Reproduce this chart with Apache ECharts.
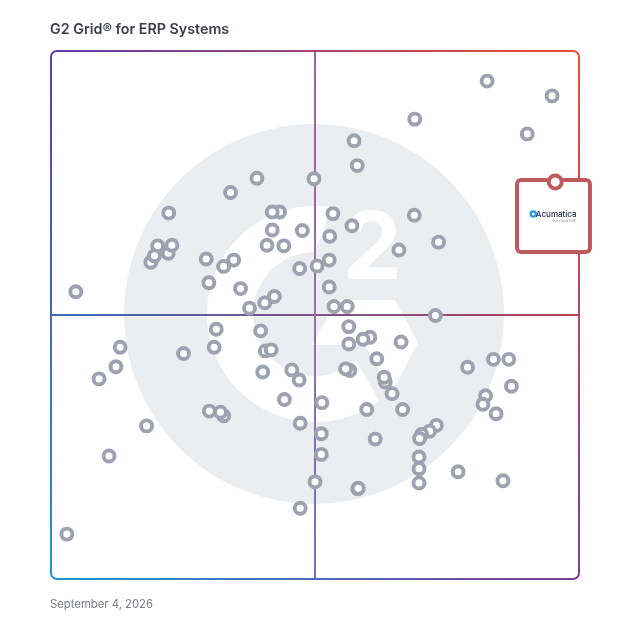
<!DOCTYPE html>
<html><head><meta charset="utf-8">
<style>html,body{margin:0;padding:0;background:#fff}#c{width:628px;height:628px}</style>
<script src="https://cdn.jsdelivr.net/npm/echarts@6/dist/echarts.min.js"></script>
</head><body><div id="c"></div>
<script>
const chartTitle = 'G2 Grid® for ERP Systems';
const dateLabel = 'September 4, 2026';
const featuredName = 'Acumatica';
const featuredTagline = 'the cloud ERP';
const featuredProduct = [[95.5,75.2]];
const products = [
[82.6,94.3],[94.9,91.5],[68.9,87.1],[90.2,84.3],[57.4,83.0],[58.0,78.3],[4.7,54.4],[13.1,43.9],[12.3,40.2],[9.1,37.9],
[18.1,29.0],[11.0,23.3],[3.0,8.5],[39.0,75.9],[34.0,73.2],[49.8,75.8],[22.3,69.3],[43.3,69.5],[41.9,69.5],[53.4,69.2],
[68.8,68.9],[57.0,66.9],[41.9,66.1],[47.6,66.0],[52.8,64.9],[73.4,63.8],[40.9,63.2],[44.1,63.1],[22.2,61.7],[20.2,63.1],
[22.9,63.2],[18.9,60.0],[19.6,61.2],[65.9,62.3],[29.4,60.6],[34.6,60.4],[32.7,59.2],[52.7,60.4],[50.4,59.3],[47.1,58.8],
[29.9,56.1],[52.7,55.3],[35.9,55.0],[42.3,53.5],[40.5,52.3],[37.6,51.3],[53.6,51.6],[56.1,51.6],[72.8,49.9],[31.3,47.3],
[39.7,47.0],[56.4,47.8],[60.4,45.8],[59.1,45.4],[56.4,44.5],[66.3,44.9],[30.9,43.9],[40.6,43.2],[41.7,43.4],[25.1,42.7],
[61.7,41.7],[78.9,40.1],[83.8,41.6],[86.7,41.6],[40.1,39.2],[45.6,39.6],[56.6,39.5],[55.8,39.8],[47.0,37.7],[63.3,37.3],
[63.1,38.2],[87.2,36.5],[64.6,35.1],[44.2,34.0],[51.3,33.4],[82.3,34.7],[81.8,33.1],[84.3,31.3],[66.6,32.1],[59.8,32.1],
[30.0,31.8],[32.7,30.9],[32.1,31.6],[47.2,29.5],[73.0,29.1],[71.7,28.0],[70.2,27.4],[69.8,26.6],[51.2,27.5],[61.4,26.5],
[51.2,23.6],[69.7,23.1],[69.7,20.9],[77.1,20.3],[85.6,18.6],[50.0,18.4],[69.7,18.2],[58.1,17.1],[58.2,17.2],[47.2,13.4]
];

const L=51,T=51,R=579,B=579,CX=315,CY=315,RAD=6;
const TL='#5a3eab',TR='#f04e30',BR='#7f3d98',BLc='#1f97d5';
const grad=(x0,y0,x1,y1,stops)=>new echarts.graphic.LinearGradient(x0,y0,x1,y1,stops);
const lineEl=(x1,y1,x2,y2,stroke,w=2)=>({type:'line',silent:true,shape:{x1,y1,x2,y2},style:{stroke,lineWidth:w}});
const cornerEl=(cx,cy,a0,a1,stroke)=>({type:'arc',silent:true,shape:{cx,cy,r:RAD,startAngle:a0,endAngle:a1},style:{stroke,lineWidth:2,fill:null}});
const hs=(a,b)=>grad(0,0,1,0,[{offset:0,color:a},{offset:1,color:b}]);
const vs=(a,b)=>grad(0,0,0,1,[{offset:0,color:a},{offset:1,color:b}]);

// G ring outline
function ringPoints(){
  const cx=315,cy=314,ro=108,ri=62,pts=[];
  const a1=Math.atan2(207-cy,332-cx), a2=Math.atan2(402-cy,380-cx)-2*Math.PI;
  const b1=Math.atan2(362-cy,357-cx)-2*Math.PI, b2=-Math.PI/2;
  const n=120;
  for(let i=0;i<=n;i++){const a=a1+(a2-a1)*i/n;pts.push([cx+ro*Math.cos(a),cy+ro*Math.sin(a)]);}
  for(let i=0;i<=n;i++){const a=b1+(b2-b1)*i/n;pts.push([cx+ri*Math.cos(a),cy+ri*Math.sin(a)]);}
  return pts;
}

const graphicEls=[
  {type:'circle',silent:true,shape:{cx:314,cy:314,r:190},style:{fill:'#ebeef1'}},
  {type:'polygon',silent:true,shape:{points:ringPoints()},style:{fill:'#fff'}},
  {type:'polygon',silent:true,shape:{points:[[337,300],[395,300],[418,343],[391,393],[365,345],[312,345]]},style:{fill:'#fff'}},
  {type:'text',silent:true,x:372,y:251,style:{text:'2',fill:'#fff',font:'700 94px Inter',textAlign:'center',textVerticalAlign:'middle'}},
  // quadrant lines
  lineEl(L,CY,R,CY,hs('#3b6ac0','#bc4054')),
  lineEl(CX,T,CX,B,grad(0,0,0,1,[{offset:0,color:'#a5609a'},{offset:.5,color:'#986fa8'},{offset:1,color:'#6f72c8'}])),
  // frame
  lineEl(L+RAD,T,R-RAD,T,hs(TL,TR)),
  lineEl(R,T+RAD,R,B-RAD,vs(TR,BR)),
  lineEl(L+RAD,B,R-RAD,B,hs(BLc,BR)),
  lineEl(L,T+RAD,L,B-RAD,vs(TL,BLc)),
  cornerEl(L+RAD,T+RAD,Math.PI,1.5*Math.PI,TL),
  cornerEl(R-RAD,T+RAD,1.5*Math.PI,2*Math.PI,TR),
  cornerEl(R-RAD,B-RAD,0,.5*Math.PI,BR),
  cornerEl(L+RAD,B-RAD,.5*Math.PI,Math.PI,BLc),
  // callout
  {type:'rect',silent:true,shape:{x:517,y:180,width:73,height:72,r:4},style:{fill:'#fff',stroke:'#bd5a5c',lineWidth:4}},
  {type:'circle',silent:true,shape:{cx:533.2,cy:214,r:2.6},style:{fill:'#fff',stroke:'#2a9bdc',lineWidth:2.2}},
  {type:'text',silent:true,x:576.5,y:214.5,style:{text:featuredName,fill:'#1b2050',font:'500 8px Inter',textAlign:'right',textVerticalAlign:'middle'}},
  {type:'text',silent:true,x:576,y:221,style:{text:featuredTagline,fill:'#8a8d99',font:'400 3.6px Inter',textAlign:'right',textVerticalAlign:'middle'}}
];

const chart=echarts.init(document.getElementById('c'),null,{renderer:'canvas'});
chart.setOption({
  animation:false,
  backgroundColor:'#fff',
  title:[
    {text:chartTitle,left:50,top:22.5,padding:0,textStyle:{fontFamily:'Inter',fontSize:14.3,fontWeight:600,color:'#3c3e48'}},
    {text:dateLabel,left:50,top:599.5,padding:0,textStyle:{fontFamily:'Inter',fontSize:11.3,fontWeight:400,color:'#7b7e88'}}
  ],
  grid:{left:L,top:T,width:R-L,height:B-T},
  xAxis:{type:'value',min:0,max:100,show:false},
  yAxis:{type:'value',min:0,max:100,show:false},
  graphic:{elements:graphicEls},
  series:[
    {type:'scatter',name:'Products',data:products,symbol:'circle',symbolSize:11,silent:true,z:3,
     itemStyle:{color:'#fff',borderColor:'#9da2b0',borderWidth:3.9,opacity:1}},
    {type:'scatter',name:featuredName,data:featuredProduct,symbol:'circle',symbolSize:13,silent:true,z:4,
     itemStyle:{color:'#fff',borderColor:'#bd5a5c',borderWidth:3.9,opacity:1}}
  ]
});
</script></body></html>
